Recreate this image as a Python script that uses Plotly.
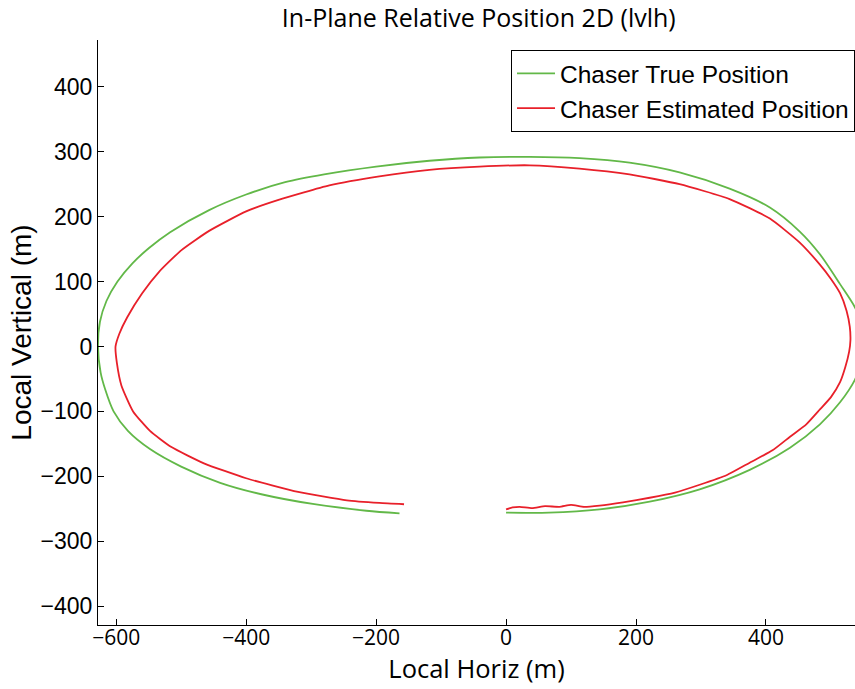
import plotly.graph_objects as go

# Chaser true position (m)
true_x = [0, 66, 144, 221, 298, 375, 437, 483, 514, 537, 548, 548, 537, 514, 483, 452, 406, 344, 267, 190, 113, 36,
          -41, -118, -200, -280, -340, -400, -457, -517, -549, -575, -598, -615, -625, -628, -624, -617, -604, -582,
          -548, -500, -440, -375, -295, -215, -164]
true_y = [-256, -256, -251, -239, -220, -190, -156, -120, -86, -51, -20, 30, 60, 96, 142, 177, 214, 243, 268, 283, 290,
          292, 291, 286, 277, 265, 253, 234, 210, 176, 152, 128, 100, 70, 38, 0, -40, -66, -100, -130, -158, -185,
          -210, -228, -243, -253, -257]

# Chaser estimated position (m)
est_x = [0, 10, 21, 40, 60, 82, 100, 120, 144, 180, 221, 260, 298, 340, 375, 410, 437, 462, 483, 500, 514, 522, 528,
         530, 529, 524, 514, 500, 483, 452, 406, 344, 267, 190, 113, 36, -41, -118, -195, -272, -349, -400, -457,
         -500, -534, -560, -583, -595, -601, -599, -592, -574, -548, -515, -465, -400, -320, -245, -195, -157]
est_y = [-251, -248, -247, -249, -246, -247, -244, -247, -245, -240, -233, -225, -213, -198, -179, -160, -139, -120, -97,
         -78, -55, -32, -8, 10, 30, 55, 82, 104, 126, 160, 197, 227, 250, 265, 274, 279, 277, 272, 262, 248, 226, 208,
         178, 148, 115, 82, 45, 20, 0, -25, -60, -100, -130, -155, -180, -203, -224, -237, -241, -243]

x_ticks = [-600, -400, -200, 0, 200, 400]
y_ticks = [-400, -300, -200, -100, 0, 100, 200, 300, 400]

fig = go.Figure()
fig.add_trace(go.Scatter(x=true_x, y=true_y, mode="lines", name="Chaser True Position",
                         line=dict(color="#62b848", width=1.8, shape="spline", smoothing=0.8)))
fig.add_trace(go.Scatter(x=est_x, y=est_y, mode="lines", name="Chaser Estimated Position",
                         line=dict(color="#e8202a", width=1.8, shape="spline", smoothing=0.5)))

calib = "Open Sans, sans-serif"
arial = "Liberation Sans, Arial, sans-serif"
fig.update_layout(
    width=855, height=689,
    margin=dict(l=98, r=0, t=40, b=64, autoexpand=False),
    paper_bgcolor="white", plot_bgcolor="white",
    title=dict(text="In-Plane Relative Position 2D (lvlh)", x=0.56, xanchor="center", y=0.974, yanchor="middle",
               font=dict(family=calib, size=25, color="black")),
    showlegend=True,
    legend=dict(x=0.5456, y=0.983, xanchor="left", yanchor="top", bgcolor="white",
                bordercolor="black", borderwidth=1,
                font=dict(family=arial, size=24.5, color="black"),
                tracegroupgap=0, itemwidth=38),
    xaxis=dict(range=[-628, 537], tickvals=x_ticks, ticks="inside", ticklen=6, tickcolor="black",
               showline=True, linecolor="black", linewidth=1, showgrid=False, zeroline=False,
               automargin=False, ticklabelstandoff=-6,
               tickfont=dict(family=calib, size=21, color="black"),
               title=dict(text="Local Horiz (m)", font=dict(family=calib, size=25.5, color="black"), standoff=0)),
    yaxis=dict(range=[-429, 472], tickvals=y_ticks, ticks="inside", ticklen=6, tickcolor="black",
               showline=True, linecolor="black", linewidth=1, showgrid=False, zeroline=False,
               automargin=False,
               tickfont=dict(family=arial, size=23, color="black"),
               title=dict(text="Local Vertical (m)", font=dict(family=arial, size=28, color="black"), standoff=0)),
)
fig.write_html("out.html", config={"displayModeBar": False},
               post_script="document.body.style.margin='0';document.body.style.overflow='hidden';")
